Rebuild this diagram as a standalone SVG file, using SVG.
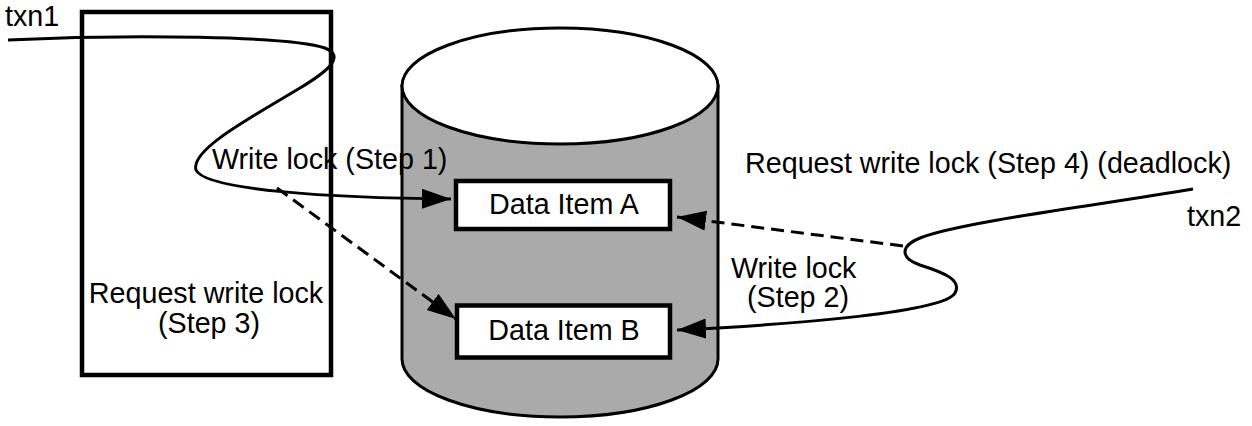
<svg xmlns="http://www.w3.org/2000/svg" width="1252" height="426" viewBox="0 0 1252 426">
  <style>
    text { font-family: "Liberation Sans", Arial, sans-serif; font-size: 28.7px; fill: #000; }
    .box { fill: #fff; stroke: #000; stroke-width: 4.5; }
    .conn { fill: none; stroke: #000; stroke-width: 3; }
    .dash { stroke-dasharray: 13 7; }
    .cyl { fill: #aaaaaa; stroke: #000; stroke-width: 3; }
  </style>
  <defs>
    <marker id="arrow" markerUnits="userSpaceOnUse" markerWidth="32" markerHeight="22" refX="29" refY="10" orient="auto">
      <path d="M0,0 L29,10 L0,20 z" fill="#000" stroke="none"/>
    </marker>
  </defs>
  <rect width="1252" height="426" fill="#fff"/>

  <g id="txn1-box">
    <rect class="box" x="82" y="12" width="249" height="363"/>
  </g>

  <g id="database">
    <path class="cyl" d="M402,86 L402,359 A158,58 0 0 0 718,359 L718,86 Z"/>
    <ellipse cx="560" cy="86" rx="158" ry="58" fill="#fff" stroke="#000" stroke-width="3"/>
  </g>

  <g id="item-a">
    <rect class="box" x="456" y="181" width="214" height="48"/>
    <text x="564" y="214" text-anchor="middle">Data Item A</text>
  </g>

  <g id="item-b">
    <rect class="box" x="457" y="305.5" width="213" height="52"/>
    <text x="564" y="340" text-anchor="middle">Data Item B</text>
  </g>

  <g id="connectors">
    <path class="conn" d="M8,40 C130,34 290,36 325,48 C345,56 330,70 300,88 C250,118 190,150 196,170 C205,190 330,198 451,199" marker-end="url(#arrow)"/>
    <path class="conn dash" d="M277,188 L456,319" marker-end="url(#arrow)"/>
    <path class="conn" d="M1193,189 C1100,205 960,222 920,238 C900,246 900,258 920,265 C945,273 962,280 955,293 C945,312 800,324 677,330" marker-end="url(#arrow)"/>
    <path class="conn dash" d="M903,246 L677,217" marker-end="url(#arrow)"/>
  </g>

  <g id="labels">
    <text x="5" y="26">txn1</text>
    <text x="212" y="169">Write lock (Step 1)</text>
    <text x="206" y="303" text-anchor="middle">Request write lock</text>
    <text x="209" y="333" text-anchor="middle">(Step 3)</text>
    <text x="745" y="173">Request write lock (Step 4) (deadlock)</text>
    <text x="1187" y="226">txn2</text>
    <text x="731" y="278">Write lock</text>
    <text x="747" y="307">(Step 2)</text>
  </g>
</svg>
